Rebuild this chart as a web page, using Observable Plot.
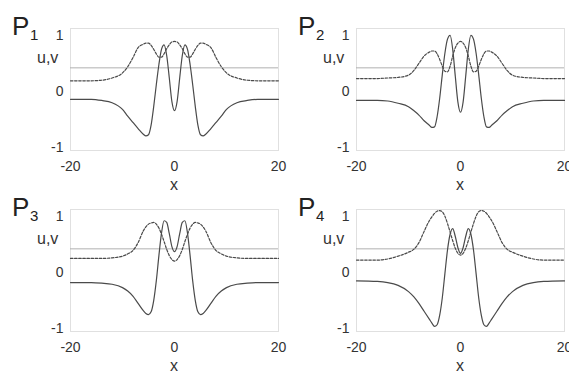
<!DOCTYPE html>
<html><head><meta charset="utf-8">
<script src="https://cdn.jsdelivr.net/npm/d3@7"></script>
<script src="https://cdn.jsdelivr.net/npm/@observablehq/plot@0.6"></script>
<style>
body{margin:0;background:#fff;font-family:"Liberation Sans",Arial,sans-serif;}
#wrap{position:relative;width:569px;height:373px;overflow:hidden;background:#fff;}
.panel{position:absolute;width:286px;height:190px;}
.panel svg{overflow:visible;position:absolute;left:0;top:0;}
.lab{position:absolute;line-height:1;white-space:nowrap;color:#222;}
.p{font-size:26px;}
.sub{font-size:15px;}
.uv{font-size:16px;color:#333;}
.xl{font-size:16px;color:#333;}
</style></head><body><div id="wrap"></div>
<script>
// sample positions along x
const xs = [-20,-16,-14,-12,-10,-9,-8,-7,-6,-5.5,-5,-4.5,-4,-3.5,-3,-2.5,-2,-1.5,-1,-0.5,0,0.5,1,1.5,2,2.5,3,3.5,4,4.5,5,5.5,6,7,8,9,10,12,14,16,20];

// P1
const u1 = [-0.14,-0.14,-0.16,-0.2,-0.32,-0.44,-0.55,-0.66,-0.76,-0.79,-0.77,-0.6,-0.27,0.12,0.48,0.75,0.83,0.64,0.24,-0.18,-0.34,
            -0.18,0.24,0.64,0.83,0.75,0.48,0.12,-0.27,-0.6,-0.77,-0.79,-0.76,-0.66,-0.55,-0.44,-0.32,-0.2,-0.16,-0.14,-0.14];
const v1 = [0.19,0.19,0.2,0.24,0.33,0.44,0.6,0.78,0.84,0.86,0.86,0.82,0.75,0.67,0.61,0.61,0.67,0.76,0.83,0.88,0.89,
            0.88,0.83,0.76,0.67,0.61,0.61,0.67,0.75,0.82,0.86,0.86,0.84,0.78,0.6,0.44,0.33,0.24,0.2,0.19,0.19];
// P2
const u2 = [-0.16,-0.16,-0.17,-0.21,-0.27,-0.34,-0.42,-0.52,-0.6,-0.64,-0.63,-0.45,-0.12,0.3,0.68,0.93,1.0,0.75,0.27,-0.19,-0.37,
            -0.19,0.27,0.75,1.0,0.93,0.68,0.3,-0.12,-0.45,-0.63,-0.64,-0.6,-0.52,-0.42,-0.34,-0.27,-0.21,-0.17,-0.16,-0.16];
const v2 = [0.23,0.23,0.24,0.25,0.29,0.37,0.5,0.63,0.7,0.72,0.72,0.67,0.57,0.45,0.36,0.35,0.45,0.63,0.78,0.86,0.89,
            0.86,0.78,0.63,0.45,0.35,0.36,0.45,0.57,0.67,0.72,0.72,0.7,0.63,0.5,0.37,0.29,0.25,0.24,0.23,0.23];
// P3
const u3 = [-0.18,-0.18,-0.19,-0.21,-0.27,-0.33,-0.42,-0.55,-0.68,-0.73,-0.75,-0.7,-0.5,-0.15,0.3,0.7,0.92,0.89,0.69,0.46,0.37,
            0.46,0.69,0.89,0.92,0.7,0.3,-0.15,-0.5,-0.7,-0.75,-0.73,-0.68,-0.55,-0.42,-0.33,-0.27,-0.21,-0.19,-0.18,-0.18];
const v3 = [0.25,0.25,0.25,0.26,0.29,0.33,0.39,0.53,0.74,0.81,0.86,0.88,0.89,0.86,0.79,0.68,0.55,0.41,0.3,0.23,0.2,
            0.23,0.3,0.41,0.55,0.68,0.79,0.86,0.89,0.88,0.86,0.81,0.74,0.53,0.39,0.33,0.29,0.26,0.25,0.25,0.25];
// P4
const u4 = [-0.15,-0.16,-0.18,-0.23,-0.34,-0.43,-0.55,-0.69,-0.83,-0.9,-0.96,-0.93,-0.76,-0.45,-0.02,0.4,0.68,0.78,0.64,0.44,0.34,
            0.44,0.64,0.78,0.68,0.4,-0.02,-0.45,-0.76,-0.93,-0.96,-0.9,-0.83,-0.69,-0.55,-0.43,-0.34,-0.23,-0.18,-0.16,-0.15];
const v4 = [0.22,0.22,0.24,0.29,0.36,0.41,0.53,0.73,0.92,0.99,1.05,1.09,1.1,1.08,1.0,0.87,0.72,0.565,0.43,0.34,0.31,
            0.34,0.43,0.565,0.72,0.87,1.0,1.08,1.1,1.09,1.05,0.99,0.92,0.73,0.53,0.41,0.36,0.29,0.24,0.22,0.22];

const threshold = 0.42;
const xTicks = [-20, 0, 20];
const yTicks = [-1, 0, 1];
const panelNames = ["1", "2", "3", "4"];
const uSeries = [u1, u2, u3, u4];
const vSeries = [v1, v2, v3, v4];

const layout = [{left:0, top:0}, {left:286, top:0}, {left:0, top:181}, {left:286, top:181}];
const wrap = document.getElementById("wrap");

panelNames.forEach((name, i) => {
  const data = xs.map((x, j) => ({x, u: uSeries[i][j], v: vSeries[i][j]}));
  const div = document.createElement("div");
  div.className = "panel";
  div.style.left = layout[i].left + "px";
  div.style.top = layout[i].top + "px";
  const plot = Plot.plot({
    width: 286, height: 190,
    marginLeft: 70, marginRight: 8, marginTop: 28, marginBottom: 40,
    style: {fontFamily: '"Liberation Sans", Arial, sans-serif', fontSize: "14px", color: "#333", background: "transparent", overflow: "visible"},
    x: {domain: [-20, 20]},
    y: {domain: [-1.05, 1.12]},
    marks: [
      Plot.frame({stroke: "#e0e0e0"}),
      Plot.ruleY([threshold], {stroke: "#b0b0b0", strokeWidth: 1}),
      Plot.line(data, {x: "x", y: "v", stroke: "#4a4a4a", strokeWidth: 1.2, strokeDasharray: "2.5,1.6", curve: "monotone-x"}),
      Plot.line(data, {x: "x", y: "u", stroke: "#4a4a4a", strokeWidth: 1.2, curve: "monotone-x"}),
      Plot.axisX({ticks: xTicks, tickSize: 0, tickPadding: 11, tickFormat: d => `${d}`, label: null, fontSize: 14}),
      Plot.axisY({ticks: yTicks, tickSize: 0, tickPadding: 7, tickFormat: d => `${d}`, label: null, fontSize: 14})
    ]
  });
  div.appendChild(plot);

  const p = document.createElement("div");
  p.className = "lab p"; p.textContent = "P";
  p.style.left = "12px"; p.style.top = "13px";
  div.appendChild(p);
  const s = document.createElement("div");
  s.className = "lab sub"; s.textContent = name;
  s.style.left = "30px"; s.style.top = "27px";
  div.appendChild(s);
  const uv = document.createElement("div");
  uv.className = "lab uv"; uv.textContent = "u,v";
  uv.style.left = "37px"; uv.style.top = "50px";
  div.appendChild(uv);
  const xl = document.createElement("div");
  xl.className = "lab xl"; xl.textContent = "x";
  xl.style.left = "170px"; xl.style.top = "177px";
  div.appendChild(xl);

  wrap.appendChild(div);
});
</script>
</body></html>
